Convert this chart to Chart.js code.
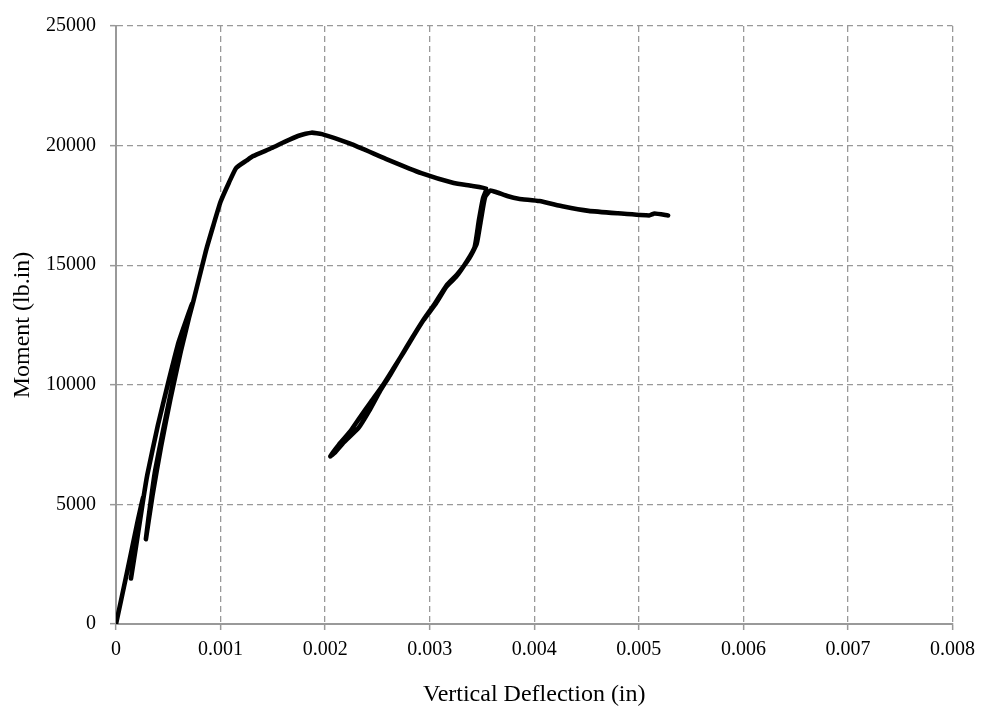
<!DOCTYPE html>
<html>
<head>
<meta charset="utf-8">
<script src="https://cdn.jsdelivr.net/npm/chart.js@4"></script>
<style>
  html, body { margin: 0; padding: 0; background: #fff; }
  #momentChart { display: block; }
</style>
</head>
<body>
<canvas id="momentChart" width="983" height="711"></canvas>
<script>
// deflection (in) and moment (lb.in), read along the test path in order
const deflection = [
  0, 0.0001, 0.0002, 0.00026, 0.0002, 0.000143, 0.00019, 0.00026,
  0.0003, 0.0004, 0.0005, 0.0006, 0.00073,
  0.00062, 0.00052, 0.00043, 0.00035, 0.000286,
  0.00031, 0.00037, 0.00046, 0.00055, 0.00065, 0.00074,
  0.00086, 0.00093, 0.001, 0.00108, 0.00115, 0.00125, 0.00131, 0.00149,
  0.0016, 0.00174, 0.00187, 0.00197, 0.00224, 0.00258, 0.00292, 0.00323,
  0.0034, 0.00354,
  0.00351, 0.00347, 0.00343, 0.00336, 0.00325, 0.00316, 0.00306, 0.00294,
  0.002845, 0.00275, 0.00265, 0.00255, 0.00244, 0.00233, 0.00224, 0.00213, 0.00205,
  0.00209, 0.00218, 0.00232, 0.00242, 0.00252, 0.00262, 0.00272, 0.00283,
  0.00293, 0.00305, 0.00316, 0.00326, 0.00338, 0.00345, 0.00349, 0.00353, 0.00358,
  0.00364, 0.00375, 0.00385, 0.00405, 0.00428, 0.00452, 0.0048, 0.0051, 0.00515, 0.00528
];
const moment = [
  0, 2050, 4150, 5300, 3600, 1900, 3200, 5200,
  6250, 8300, 10100, 11800, 13400,
  11400, 9400, 7400, 5400, 3550,
  4400, 6300, 8300, 10200, 12000, 13500,
  15600, 16650, 17650, 18450, 19070, 19380, 19560, 19900,
  20130, 20400, 20540, 20480, 20080, 19450, 18850, 18440,
  18320, 18200,
  17800, 16860, 15760, 15200, 14500, 14100, 13400, 12700,
  12040, 11350, 10660, 9970, 9300, 8620, 8050, 7490, 7010,
  7150, 7600, 8200, 8900, 9700, 10400, 11150, 11950,
  12650, 13400, 14150, 14600, 15300, 15900, 16900, 17850, 18120,
  18050, 17880, 17780, 17680, 17450, 17270, 17170, 17080, 17160, 17080
];
const xTickLabels = ['0', '0.001', '0.002', '0.003', '0.004', '0.005', '0.006', '0.007', '0.008'];
const yTickLabels = ['0', '5000', '10000', '15000', '20000', '25000'];

const points = deflection.map((d, i) => ({ x: d, y: moment[i] }));

const gridColor = '#999999';
const tickFont = { family: 'Liberation Serif', size: 20 };
const titleFont = { family: 'Liberation Serif', size: 24 };

const ctx = document.getElementById('momentChart').getContext('2d');
const myChart = new Chart(ctx, {
  type: 'scatter',
  data: {
    datasets: [{
      label: 'Moment',
      data: points,
      showLine: true,
      borderColor: '#000000',
      borderWidth: 4.6,
      borderCapStyle: 'round',
      borderJoinStyle: 'round',
      pointRadius: 0,
      tension: 0.15
    }]
  },
  options: {
    responsive: false,
    animation: false,
    layout: { padding: { top: 20, right: 29, bottom: 0, left: 0 } },
    plugins: {
      legend: { display: false },
      tooltip: { enabled: false }
    },
    scales: {
      x: {
        type: 'linear',
        min: 0,
        max: 0.008,
        afterFit: scale => { scale.height = 87; },
        ticks: {
          stepSize: 0.001,
          color: '#000',
          font: tickFont,
          padding: 8,
          maxRotation: 0,
          callback: (v, i) => xTickLabels[i]
        },
        grid: {
          color: gridColor,
          lineWidth: 1.3,
          tickLength: 6,
          tickWidth: 1.5,
          tickBorderDash: []
        },
        border: { display: true, color: gridColor, width: 2, dash: [6, 4] },
        title: {
          display: true,
          text: 'Vertical Deflection (in)',
          color: '#000',
          font: titleFont,
          padding: { top: 0, bottom: 2 }
        }
      },
      y: {
        min: 0,
        max: 25000,
        afterFit: scale => { scale.width = 116; },
        ticks: {
          stepSize: 5000,
          color: '#000',
          font: tickFont,
          padding: 14,
          callback: (v, i) => yTickLabels[i]
        },
        grid: {
          color: gridColor,
          lineWidth: 1.3,
          tickLength: 6,
          tickWidth: 1.5,
          tickBorderDash: []
        },
        border: { display: true, color: gridColor, width: 2, dash: [6, 4] },
        title: {
          display: true,
          text: 'Moment (lb.in)',
          color: '#000',
          font: titleFont,
          padding: { top: 8, bottom: 0 }
        }
      }
    }
  }
});
</script>
</body>
</html>
